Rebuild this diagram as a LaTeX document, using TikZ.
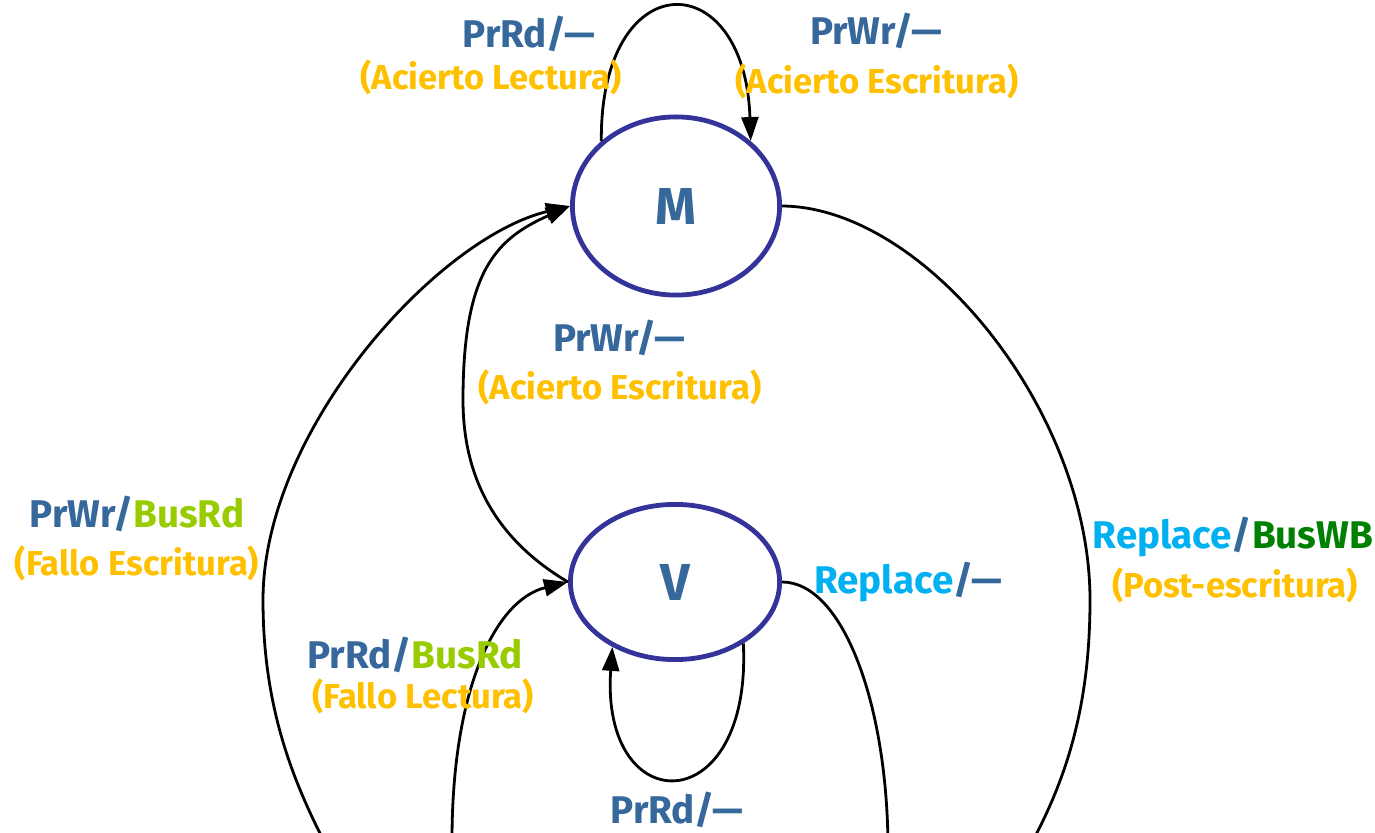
\documentclass[tikz,border=0pt]{standalone}
\usepackage{fontspec}
\setmainfont{Fira Sans}
\usetikzlibrary{arrows.meta,shapes.geometric}
\definecolor{tblue}{RGB}{54,104,156}
\definecolor{torange}{RGB}{255,192,0}
\definecolor{tlgreen}{RGB}{153,204,0}
\definecolor{tdgreen}{RGB}{0,128,0}
\definecolor{tcyan}{RGB}{0,176,240}
\definecolor{tstate}{RGB}{51,51,153}
\tikzset{
  state/.style={ellipse, draw=tstate, line width=2.4pt, inner sep=0pt, text=tblue,
    font=\fontsize{26}{26}\selectfont\bfseries},
  evt/.style={anchor=base, inner sep=0pt, text=tblue,
    font=\fontsize{19.3}{20}\selectfont\bfseries},
  note/.style={anchor=base, inner sep=0pt, text=torange,
    font=\fontsize{17.3}{18}\selectfont\bfseries},
  trans/.style={draw=black, line width=1.4pt, -{Triangle[length=12pt,width=8.5pt]}},
  plain/.style={draw=black, line width=1.4pt},
}
\begin{document}
\begin{tikzpicture}[x=0.5pt,y=-0.5pt]
\useasboundingbox (0,0) rectangle (1375,833);
\clip (0,0) rectangle (1375,833);

% states
\node[state, minimum width=103.6pt, minimum height=89.1pt] (M) at (676,206) {M};
\node[state, minimum width=104.6pt, minimum height=77.6pt] (V) at (675,582) {V};

% free ends below the visible area
\coordinate (oL) at (345,880);
\coordinate (oPR) at (452,840);
\coordinate (oR) at (888,850);
\coordinate (oMR) at (1010,880);

% connectors
\draw[trans] (M.139) .. controls (600,-37) and (745,-37) .. (M.41);
\draw[trans] (oL) .. controls (300,800) and (263,720) .. (263,600)
                  .. controls (263,430) and (437,238) .. (M.west);
\draw[trans] (V.west) .. controls (507,546) and (463,490) .. (463,400)
                      .. controls (463,270) and (497,238.5) .. (M.west);
\draw[trans] (oPR) .. controls (452,690) and (495,600) .. (V.west);
\draw[trans] (V.-42) .. controls (752,822) and (600,822) .. (V.-134);
\draw[plain] (V.east) .. controls (843,582) and (888,705) .. (oR);
\draw[plain] (M.east) .. controls (924,207) and (1090,410) .. (1090,600)
                      .. controls (1090,720) and (1060,800) .. (oMR);

% labels
\node[evt]  (l1)  at (529,48)  {PrRd/—};
\node[note] (l1b) at (491,90)  {(Acierto Lectura)};
\node[evt]  (l2)  at (876,45)  {PrWr/—};
\node[note] (l2b) at (877,94)  {(Acierto Escritura)};
\node[evt]  (l3)  at (619,352) {PrWr/—};
\node[note] (l3b) at (620,400) {(Acierto Escritura)};
\node[evt]  (l4)  at (137,527) {PrWr/\textcolor{tlgreen}{BusRd}};
\node[note] (l4b) at (137,575) {(Fallo Escritura)};
\node[evt]  (l5)  at (415,668) {PrRd/\textcolor{tlgreen}{BusRd}};
\node[note] (l5b) at (423,708) {(Fallo Lectura)};
\node[evt]  (l6)  at (908,593) {\textcolor{tcyan}{Replace}/—};
\node[evt]  (l7)  at (1233,548) {\textcolor{tcyan}{Replace}/\textcolor{tdgreen}{BusWB}};
\node[note] (l7b) at (1235,597) {(Post-escritura)};
\node[evt]  (l8)  at (677,823) {PrRd/—};
\end{tikzpicture}
\end{document}
